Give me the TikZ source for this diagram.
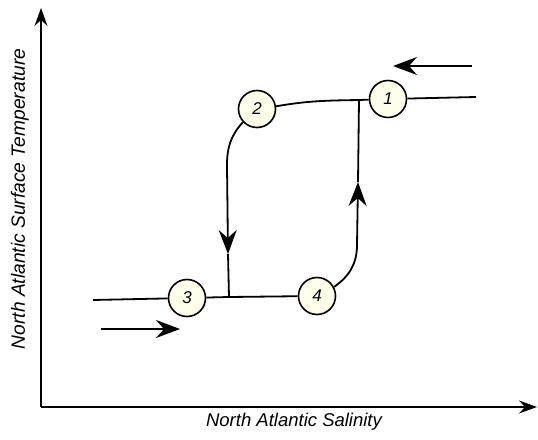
\documentclass[tikz,border=0pt]{standalone}
\usepackage{fontspec}
\setmainfont{Liberation Sans}
\usetikzlibrary{arrows.meta}
\definecolor{stateFill}{RGB}{255,255,236}
\begin{document}
\begin{tikzpicture}[x=1pt,y=-1pt]
\tikzset{
    hystState/.style={circle,draw=black,line width=1.6pt,fill=stateFill,minimum size=37pt,inner sep=0pt,font=\itshape\fontsize{17}{17}\selectfont},
    hystLine/.style={line width=1.8pt},
    hystArrow/.style={line width=1.8pt,-{Stealth[length=24pt,width=18pt,inset=8pt]}},
    axisArrow/.style={line width=1.4pt,-{Stealth[length=18pt,width=13pt,inset=6pt]}},
    axisLabel/.style={font=\itshape\fontsize{18.5}{18.5}\selectfont},
}
\useasboundingbox (0,0) rectangle (538,439);

% axes
\coordinate (origin) at (41,407);
\coordinate (yTop) at (41,8);
\coordinate (xEnd) at (537,407);
\draw[axisArrow] (origin) -- (yTop);
\draw[axisArrow] (origin) -- (xEnd);
\node[axisLabel] (xLab) at (294,422) {North Atlantic Salinity};
\node[axisLabel,rotate=90,font=\itshape\fontsize{19.2}{19.2}\selectfont] (yLab) at (20,199) {North Atlantic Surface Temperature};

% states
\node[hystState] (s1) at (388,99) {1};
\node[hystState] (s2) at (257,109) {2};
\node[hystState] (s3) at (187,298) {3};
\node[hystState] (s4) at (317,296) {4};

\coordinate (jTop) at (359,100);
\coordinate (jBot) at (229,297);
\coordinate (leftEnd) at (93,300);
\coordinate (rightEnd) at (476,97);
\coordinate (downTip) at (228,254);
\coordinate (upTip) at (358,182);

% branches
\draw[hystLine] (leftEnd) -- (s3);
\draw[hystLine] (s3) -- (jBot) -- (s4);
\draw[hystLine] (s1) -- (rightEnd);
\draw[hystLine] (jTop) -- (s1);
\draw[hystLine] (s2.8) to[out=10,in=181] (jTop);
\draw[hystArrow] (s2.223) to[out=228,in=90] (227,165) -- (downTip);
\draw[hystLine] (downTip) -- (jBot);
\draw[hystArrow] (s4.28) to[out=35,in=270] (357,245) -- (upTip);
\draw[hystLine] (upTip) -- (jTop);

% direction arrows
\coordinate (inStart) at (101,329);
\coordinate (inEnd) at (180,329);
\coordinate (outStart) at (472,66);
\coordinate (outEnd) at (393,66);
\draw[hystArrow] (inStart) -- (inEnd);
\draw[hystArrow] (outStart) -- (outEnd);
\end{tikzpicture}
\end{document}
